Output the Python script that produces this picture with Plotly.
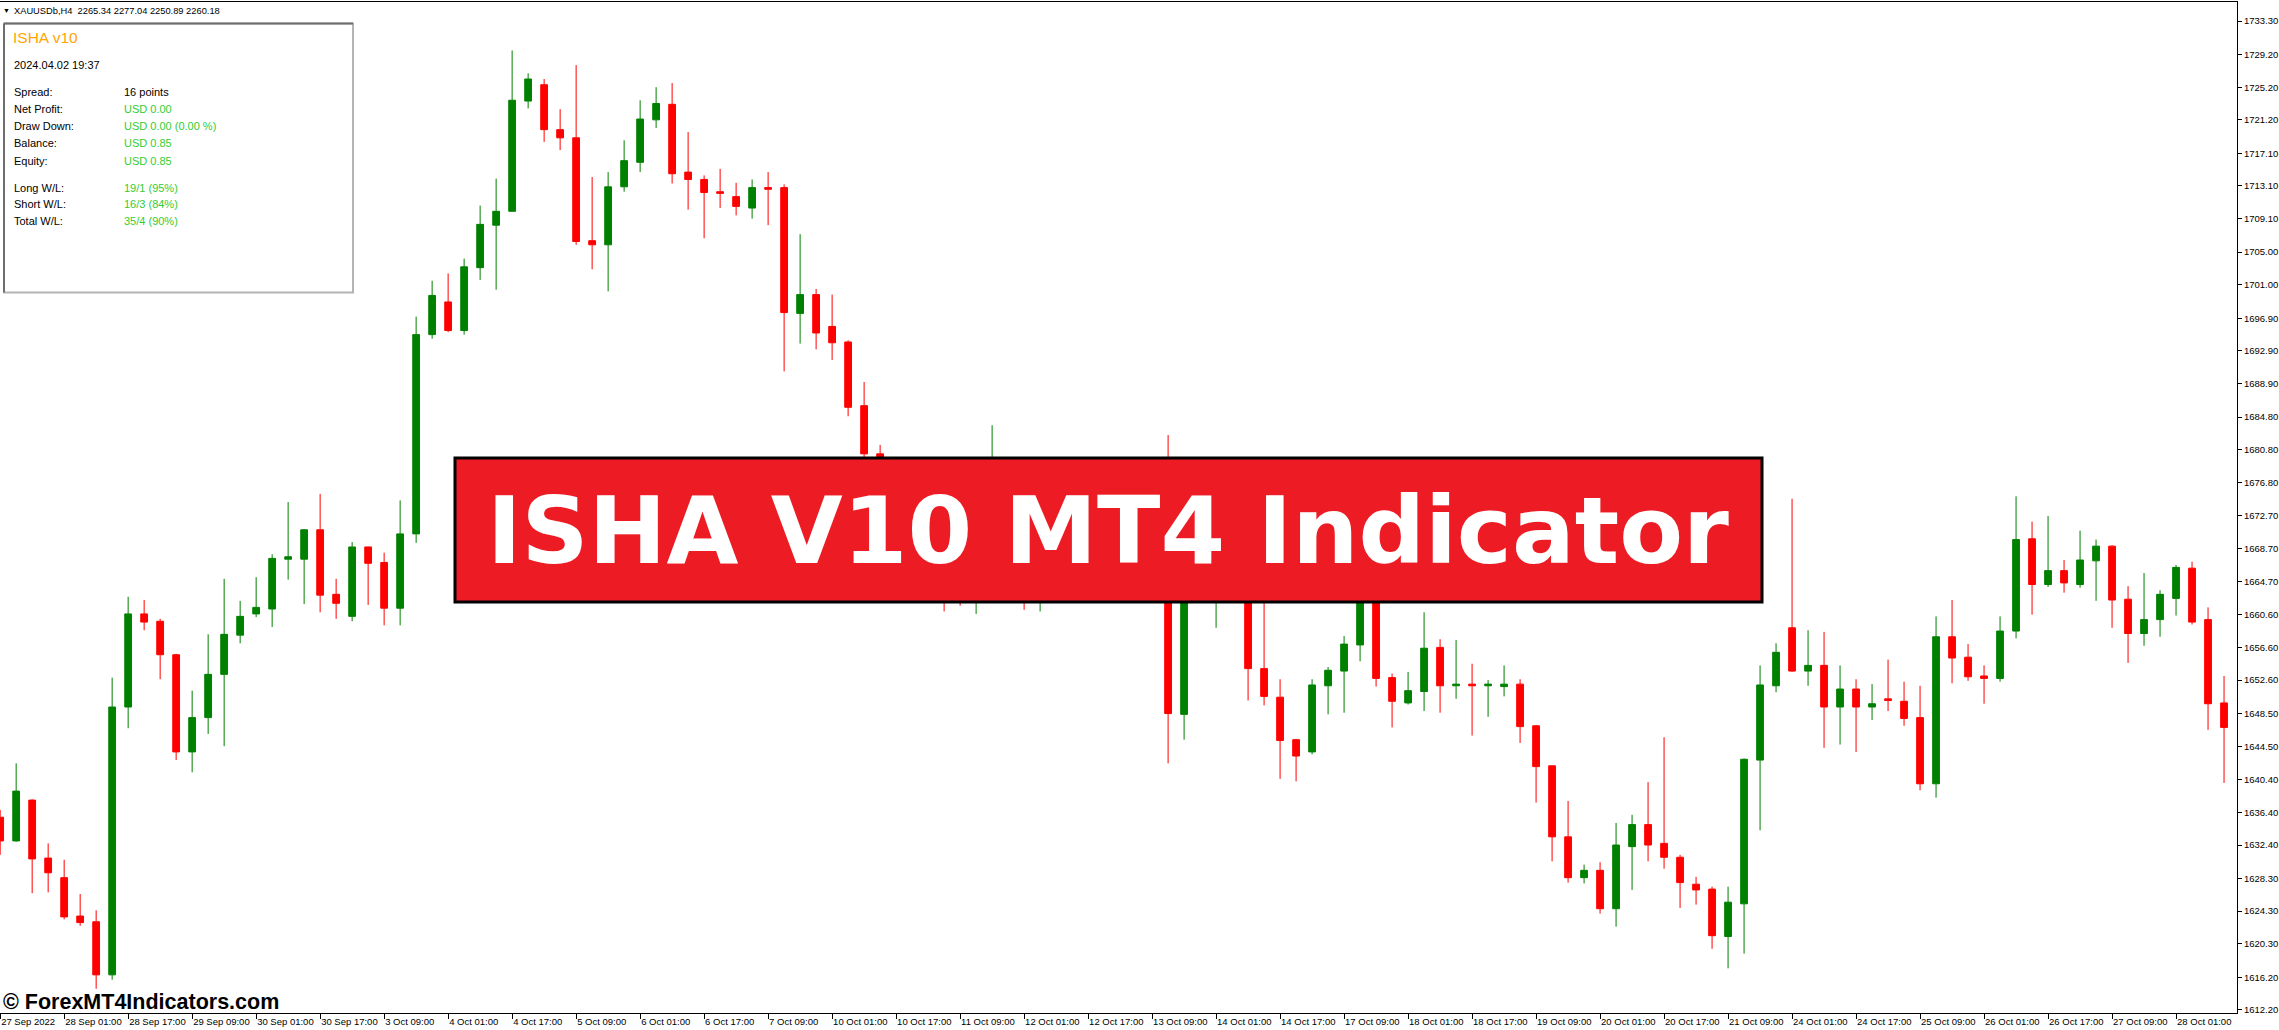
import plotly.graph_objects as go

# ---------------- data (XAUUSDb, H4) ----------------
opens = [1635.8, 1632.9, 1637.9, 1630.8, 1628.4, 1623.7, 1623.0, 1616.5, 1649.3, 1660.7,
         1659.8, 1655.7, 1643.8, 1648.0, 1653.3, 1658.1, 1660.7, 1661.3, 1667.4, 1667.4,
         1671.0, 1663.1, 1660.4, 1668.9, 1667.0, 1661.4, 1670.5, 1694.9, 1698.9, 1695.4,
         1703.1, 1708.3, 1710.0, 1723.5, 1725.5, 1720.0, 1719.0, 1706.4, 1705.9, 1713.0,
         1716.0, 1721.2, 1723.1, 1714.8, 1713.9, 1712.4, 1711.8, 1710.4, 1712.9, 1712.9,
         1697.5, 1699.8, 1695.9, 1694.0, 1686.2, 1680.3, 1672.5, 1667.5, 1670.5, 1665.0,
         1664.0, 1663.0, 1667.5, 1673.0, 1669.0, 1665.0, 1668.5, 1666.5, 1669.0, 1667.0,
         1670.5, 1668.0, 1665.5, 1667.0, 1648.4, 1665.5, 1668.0, 1670.0, 1666.0, 1654.0,
         1650.5, 1645.3, 1643.8, 1651.9, 1653.7, 1656.9, 1665.5, 1652.9, 1649.8, 1651.2,
         1656.6, 1651.9, 1652.1, 1651.9, 1651.8, 1652.1, 1647.0, 1642.1, 1633.4, 1628.4,
         1629.3, 1624.6, 1632.2, 1634.9, 1632.6, 1630.9, 1627.6, 1627.0, 1621.2, 1625.2,
         1642.8, 1651.9, 1659.0, 1653.7, 1654.4, 1649.3, 1651.5, 1649.3, 1650.3, 1650.0,
         1648.0, 1639.9, 1657.9, 1655.4, 1653.1, 1652.8, 1658.6, 1669.9, 1664.3, 1666.0,
         1664.3, 1667.2, 1669.0, 1662.5, 1658.3, 1660.0, 1662.6, 1666.3, 1660.0, 1649.8]
highs = [1636.7, 1642.4, 1638.0, 1632.6, 1630.6, 1626.4, 1624.4, 1652.9, 1662.8, 1662.4,
         1660.1, 1655.8, 1651.3, 1658.2, 1665.0, 1662.3, 1665.2, 1668.0, 1674.4, 1671.1,
         1675.4, 1665.0, 1669.5, 1668.9, 1668.2, 1674.6, 1697.1, 1701.5, 1702.4, 1704.2,
         1710.7, 1714.0, 1729.7, 1726.9, 1726.2, 1722.5, 1727.9, 1714.2, 1714.8, 1718.7,
         1723.6, 1725.2, 1725.7, 1719.7, 1714.4, 1715.2, 1713.5, 1713.9, 1714.8, 1713.3,
         1707.2, 1700.5, 1699.8, 1694.2, 1689.1, 1681.4, 1674.5, 1672.0, 1673.0, 1668.5,
         1666.5, 1669.0, 1683.8, 1677.0, 1671.5, 1670.0, 1672.0, 1671.0, 1673.0, 1672.5,
         1673.5, 1670.0, 1669.5, 1682.6, 1667.5, 1671.0, 1672.0, 1673.5, 1668.0, 1664.0,
         1652.7, 1645.4, 1652.7, 1654.2, 1658.0, 1667.0, 1668.0, 1653.4, 1653.6, 1660.9,
         1657.6, 1657.5, 1654.6, 1652.6, 1654.4, 1652.7, 1647.1, 1642.1, 1637.8, 1630.0,
         1630.3, 1635.1, 1636.1, 1640.1, 1645.6, 1631.2, 1628.5, 1627.3, 1627.3, 1643.0,
         1654.4, 1657.1, 1674.8, 1658.7, 1658.5, 1654.4, 1652.7, 1652.1, 1655.1, 1652.4,
         1651.9, 1660.4, 1662.4, 1657.0, 1654.4, 1660.4, 1675.1, 1672.0, 1672.7, 1667.3,
         1670.9, 1669.8, 1669.1, 1664.1, 1665.7, 1663.6, 1666.7, 1667.1, 1661.5, 1653.1]
lows = [1631.2, 1632.8, 1626.5, 1626.6, 1623.3, 1622.5, 1614.8, 1615.9, 1646.7, 1658.7,
        1652.7, 1642.8, 1641.3, 1646.0, 1644.5, 1657.1, 1660.3, 1659.1, 1664.9, 1661.9,
        1660.9, 1660.1, 1659.8, 1661.8, 1659.3, 1659.3, 1669.4, 1694.4, 1695.2, 1694.9,
        1701.6, 1700.4, 1710.0, 1722.6, 1718.5, 1717.5, 1705.9, 1702.9, 1700.2, 1712.4,
        1714.8, 1720.2, 1713.4, 1710.2, 1706.7, 1710.4, 1709.5, 1709.1, 1708.3, 1690.4,
        1693.8, 1693.1, 1691.8, 1684.9, 1678.3, 1671.5, 1666.0, 1665.5, 1664.0, 1661.0,
        1661.7, 1660.7, 1666.0, 1668.0, 1661.2, 1661.0, 1665.0, 1664.5, 1666.0, 1665.5,
        1666.5, 1664.0, 1663.5, 1642.4, 1645.3, 1663.0, 1659.0, 1664.5, 1650.1, 1649.5,
        1640.5, 1640.2, 1643.5, 1648.4, 1648.6, 1654.9, 1651.8, 1646.8, 1649.6, 1648.8,
        1648.6, 1650.3, 1645.8, 1648.1, 1650.6, 1644.9, 1637.6, 1630.4, 1627.8, 1627.7,
        1624.0, 1622.4, 1626.9, 1630.4, 1629.5, 1624.7, 1625.1, 1619.7, 1617.3, 1619.1,
        1634.2, 1651.1, 1653.6, 1651.9, 1644.3, 1644.7, 1643.8, 1647.7, 1648.8, 1647.0,
        1639.1, 1638.2, 1652.2, 1652.5, 1649.7, 1652.4, 1657.7, 1660.6, 1664.0, 1663.3,
        1663.9, 1662.3, 1659.0, 1654.7, 1656.8, 1657.9, 1660.5, 1659.4, 1646.5, 1640.0]
closes = [1632.9, 1639.0, 1630.7, 1629.0, 1623.6, 1622.9, 1616.5, 1649.3, 1660.7, 1659.7,
          1655.7, 1643.8, 1648.0, 1653.3, 1658.2, 1660.4, 1661.5, 1667.5, 1667.7, 1671.0,
          1663.0, 1662.0, 1668.9, 1666.9, 1661.4, 1670.5, 1694.9, 1699.7, 1695.4, 1703.2,
          1708.4, 1710.0, 1723.6, 1726.2, 1720.0, 1719.0, 1706.3, 1705.9, 1713.0, 1716.2,
          1721.3, 1723.2, 1714.6, 1713.9, 1712.3, 1712.2, 1710.6, 1712.9, 1712.7, 1697.6,
          1699.8, 1695.1, 1693.9, 1686.0, 1680.3, 1672.5, 1667.5, 1670.5, 1665.0, 1664.0,
          1663.0, 1667.5, 1673.0, 1669.0, 1665.0, 1668.5, 1666.5, 1669.0, 1667.0, 1670.5,
          1668.0, 1665.5, 1667.0, 1648.5, 1665.5, 1669.0, 1670.0, 1666.0, 1654.0, 1650.6,
          1645.2, 1643.3, 1652.0, 1653.8, 1657.0, 1665.5, 1652.8, 1650.0, 1651.3, 1656.5,
          1651.9, 1652.1, 1651.9, 1652.1, 1652.1, 1646.9, 1642.0, 1633.4, 1628.4, 1629.3,
          1624.6, 1632.4, 1634.9, 1632.4, 1630.9, 1627.8, 1626.9, 1621.3, 1625.4, 1642.9,
          1652.0, 1656.0, 1653.7, 1654.4, 1649.3, 1651.5, 1649.3, 1649.7, 1650.1, 1647.9,
          1639.9, 1657.9, 1655.3, 1653.0, 1652.8, 1658.6, 1669.8, 1664.3, 1666.0, 1664.5,
          1667.3, 1669.0, 1662.4, 1658.3, 1660.0, 1663.1, 1666.4, 1659.7, 1649.7, 1646.8]
bar_index = list(range(len(opens)))

x_tick_idx = list(range(0, 140, 4))
x_tick_labels = ["27 Sep 2022", "28 Sep 01:00", "28 Sep 17:00", "29 Sep 09:00", "30 Sep 01:00",
                 "30 Sep 17:00", "3 Oct 09:00", "4 Oct 01:00", "4 Oct 17:00", "5 Oct 09:00",
                 "6 Oct 01:00", "6 Oct 17:00", "7 Oct 09:00", "10 Oct 01:00", "10 Oct 17:00",
                 "11 Oct 09:00", "12 Oct 01:00", "12 Oct 17:00", "13 Oct 09:00", "14 Oct 01:00",
                 "14 Oct 17:00", "17 Oct 09:00", "18 Oct 01:00", "18 Oct 17:00", "19 Oct 09:00",
                 "20 Oct 01:00", "20 Oct 17:00", "21 Oct 09:00", "24 Oct 01:00", "24 Oct 17:00",
                 "25 Oct 09:00", "26 Oct 01:00", "26 Oct 17:00", "27 Oct 09:00", "28 Oct 01:00"]
y_tick_vals = [1733.30, 1729.20, 1725.20, 1721.20, 1717.10, 1713.10, 1709.10, 1705.00,
               1701.00, 1696.90, 1692.90, 1688.90, 1684.80, 1680.80, 1676.80, 1672.70,
               1668.70, 1664.70, 1660.60, 1656.60, 1652.60, 1648.50, 1644.50, 1640.40,
               1636.40, 1632.40, 1628.30, 1624.30, 1620.30, 1616.20, 1612.20]

header_text = "XAUUSDb,H4\u00a0\u00a02265.34 2277.04 2250.89 2260.18"
panel_title = "ISHA v10"
panel_time = "2024.04.02 19:37"
panel_labels = ["Spread:", "Net Profit:", "Draw Down:", "Balance:", "Equity:",
                "Long W/L:", "Short W/L:", "Total W/L:"]
panel_values = ["16 points", "USD 0.00", "USD 0.00 (0.00 %)", "USD 0.85", "USD 0.85",
                "19/1 (95%)", "16/3 (84%)", "35/4 (90%)"]
banner_text = "ISHA V10 MT4 Indicator"
watermark = "© ForexMT4Indicators.com"

# ---------------- layout geometry ----------------
W, H = 2279, 1030
PL, PR, PT, PB = 0, 2237, 2, 1013   # plot area in pixels


def px(x):
    return (x - PL) / (PR - PL)


def py(y):
    return (PB - y) / (PB - PT)


GREEN = "#008000"
RED = "#FF0000"
AX_FONT = dict(family="Liberation Sans, Arial, sans-serif", size=9.5, color="black")

fig = go.Figure()
fig.add_trace(go.Candlestick(
    x=bar_index, open=opens, high=highs, low=lows, close=closes,
    increasing=dict(line=dict(color=GREEN, width=1), fillcolor=GREEN),
    decreasing=dict(line=dict(color=RED, width=1), fillcolor=RED),
    whiskerwidth=0, showlegend=False, hoverinfo="skip"))

shapes = []
annotations = []

# info panel box
shapes.append(dict(type="rect", xref="paper", yref="paper",
                   x0=px(4), x1=px(353), y0=py(292.5), y1=py(23.5),
                   line=dict(color="#B4B4B4", width=2), fillcolor="white", layer="above"))
shapes.append(dict(type="line", xref="paper", yref="paper",
                   x0=px(4), x1=px(353), y0=py(23.5), y1=py(23.5),
                   line=dict(color="#6E6E6E", width=2), layer="above"))
shapes.append(dict(type="line", xref="paper", yref="paper",
                   x0=px(4), x1=px(4), y0=py(292.5), y1=py(23.5),
                   line=dict(color="#6E6E6E", width=2), layer="above"))

# banner
shapes.append(dict(type="rect", xref="paper", yref="paper",
                   x0=px(455), x1=px(1762), y0=py(602), y1=py(458),
                   line=dict(color="black", width=3), fillcolor="#ED1C24", layer="above"))


def txt(x, y, s, size, color="black", family="Liberation Sans, Arial, sans-serif",
        xanchor="left"):
    annotations.append(dict(xref="paper", yref="paper", x=px(x), y=py(y), text=s,
                            showarrow=False, xanchor=xanchor, yanchor="middle",
                            font=dict(family=family, size=size, color=color),
                            borderpad=0))


txt(2, 11, "▼", 7)
txt(13, 11, header_text, 9.3)
txt(12, 37.5, panel_title, 15.5, color="#FFA500")
txt(13, 65, panel_time, 11)
rows_y = [92, 109, 126, 143, 160.5, 187.5, 204, 221]
for i, (lab, val) in enumerate(zip(panel_labels, panel_values)):
    txt(13, rows_y[i], lab, 11)
    txt(123, rows_y[i], val, 11, color="black" if i == 0 else "#32CD32")

txt(1108, 531, "<b>" + banner_text + "</b>", 93, color="white",
    family="DejaVu Sans, sans-serif", xanchor="center")
txt(2, 1002, "<b>" + watermark + "</b>", 21.5)

fig.update_layout(
    width=W, height=H,
    margin=dict(l=PL, r=W - PR, t=PT, b=H - PB, pad=0),
    paper_bgcolor="white", plot_bgcolor="white",
    boxgap=0.395,
    showlegend=False,
    shapes=shapes, annotations=annotations,
    xaxis=dict(range=[-0.01, 139.81], showgrid=False, zeroline=False,
               showline=True, linecolor="black", linewidth=1, mirror=True,
               ticks="outside", ticklen=5, tickcolor="black", tickwidth=1,
               tickmode="array", tickvals=x_tick_idx, ticktext=x_tick_labels,
               ticklabelposition="outside right", tickangle=0, tickfont=AX_FONT,
               rangeslider=dict(visible=False), fixedrange=True, automargin=False),
    yaxis=dict(range=[1611.83, 1735.63], side="right", showgrid=False, zeroline=False,
               showline=True, linecolor="black", linewidth=1,
               ticks="outside", ticklen=4, tickcolor="black", tickwidth=1,
               tickmode="array", tickvals=y_tick_vals,
               ticktext=["%.2f" % v for v in y_tick_vals], tickfont=AX_FONT,
               fixedrange=True, automargin=False),
)

fig.write_html("out.html", config={"displayModeBar": False},
               post_script="document.body.style.margin='0';document.body.style.overflow='hidden';")
